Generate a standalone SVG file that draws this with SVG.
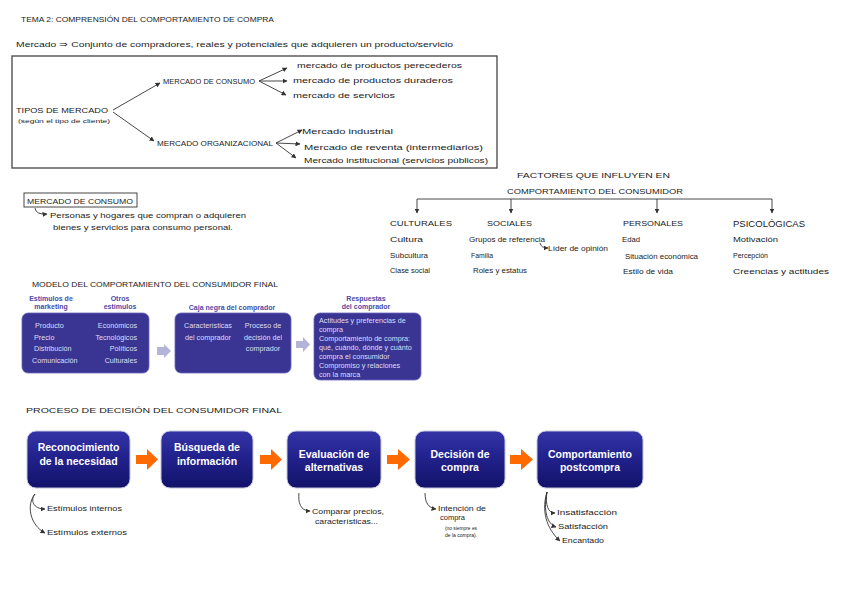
<svg xmlns="http://www.w3.org/2000/svg" width="848" height="599" viewBox="0 0 848 599">
<defs>
<style>
.h{font-family:"Liberation Sans",Arial,sans-serif;font-size:8px;fill:#222}
.s{font-family:"Liberation Sans",Arial,sans-serif;font-size:7px;fill:#222}
.xs{font-family:"Liberation Sans",Arial,sans-serif;font-size:5.5px;fill:#222}
.bh{font-family:"Liberation Sans",Arial,sans-serif;font-size:7px;font-weight:bold;fill:#4b4ba8;text-anchor:middle}
.bt{font-family:"Liberation Sans",Arial,sans-serif;font-size:7.2px;fill:#dedef4}
.pt{font-family:"Liberation Sans",Arial,sans-serif;font-size:10.5px;font-weight:bold;fill:#fff;text-anchor:middle}
.ln{fill:none;stroke:#333;stroke-width:0.9;marker-end:url(#ah)}
.pl{fill:none;stroke:#333;stroke-width:0.9}
.mb{fill:#3a3593;stroke:#6a66bb;stroke-width:0.8}
.pb{fill:url(#pg);stroke:#c4c4dc;stroke-width:1}
.ga{fill:#b4b4d8}
.oa{fill:#ff6a00}
</style>
<linearGradient id="pg" x1="0" y1="0" x2="0" y2="1">
<stop offset="0" stop-color="#3434a6"/>
<stop offset="0.45" stop-color="#22228e"/>
<stop offset="1" stop-color="#12126a"/>
</linearGradient>
<marker id="ah" markerUnits="userSpaceOnUse" markerWidth="5" markerHeight="5" refX="4.5" refY="2.5" orient="auto">
<path d="M0,0 L5,2.5 L0,5 Z" fill="#333"/>
</marker>
</defs>
<rect width="848" height="599" fill="#fff"/>

<g id="titulo">
<text class="h" x="21" y="22" textLength="253" lengthAdjust="spacingAndGlyphs">TEMA 2: COMPRENSIÓN DEL COMPORTAMIENTO DE COMPRA</text>
<text class="h" x="16" y="47" textLength="437" lengthAdjust="spacingAndGlyphs">Mercado ⇒ Conjunto de compradores, reales y potenciales que adquieren un producto/servicio</text>
</g>

<g id="tipos-mercado">
<rect x="12" y="56" width="485" height="112" fill="none" stroke="#444" stroke-width="1.3"/>
<text class="h" x="16" y="113" textLength="92" lengthAdjust="spacingAndGlyphs">TIPOS DE MERCADO</text>
<text class="xs" x="18" y="123" textLength="92" lengthAdjust="spacingAndGlyphs">(según el tipo de cliente)</text>
</g>
<g id="mercado-consumo">
<text class="h" x="163" y="84" textLength="92" lengthAdjust="spacingAndGlyphs">MERCADO DE CONSUMO</text>
</g>
<g id="perecederos"><text class="s" x="297" y="68" textLength="165" lengthAdjust="spacingAndGlyphs">mercado de productos perecederos</text></g>
<g id="duraderos"><text class="s" x="293" y="83" textLength="160" lengthAdjust="spacingAndGlyphs">mercado de productos duraderos</text></g>
<g id="servicios"><text class="s" x="293" y="98" textLength="102" lengthAdjust="spacingAndGlyphs">mercado de servicios</text></g>
<g id="mercado-organizacional">
<text class="h" x="157" y="146" textLength="116" lengthAdjust="spacingAndGlyphs">MERCADO ORGANIZACIONAL</text>
</g>
<g id="industrial"><text class="s" x="302" y="134" textLength="91" lengthAdjust="spacingAndGlyphs">Mercado industrial</text></g>
<g id="reventa"><text class="s" x="304" y="150" textLength="179" lengthAdjust="spacingAndGlyphs">Mercado de reventa (intermediarios)</text></g>
<g id="institucional"><text class="s" x="304" y="163" textLength="184" lengthAdjust="spacingAndGlyphs">Mercado institucional (servicios públicos)</text></g>

<g id="def-consumo">
<rect x="24" y="193" width="113" height="14" fill="none" stroke="#333" stroke-width="0.9"/>
<text class="h" x="27" y="204" textLength="106" lengthAdjust="spacingAndGlyphs">MERCADO DE CONSUMO</text>
<text class="s" x="50" y="218" textLength="196" lengthAdjust="spacingAndGlyphs">Personas y hogares que compran o adquieren</text>
<text class="s" x="53" y="230" textLength="180" lengthAdjust="spacingAndGlyphs">bienes y servicios para consumo personal.</text>
</g>

<g id="factores">
<text class="h" x="517" y="178" textLength="153" lengthAdjust="spacingAndGlyphs">FACTORES QUE INFLUYEN EN</text>
<text class="h" x="507" y="194" textLength="176" lengthAdjust="spacingAndGlyphs">COMPORTAMIENTO DEL CONSUMIDOR</text>
</g>
<g id="culturales">
<text class="h" x="390" y="226" textLength="62" lengthAdjust="spacingAndGlyphs">CULTURALES</text>
<text class="s" x="390" y="242" textLength="33" lengthAdjust="spacingAndGlyphs">Cultura</text>
<text class="s" x="390" y="258" textLength="38" lengthAdjust="spacingAndGlyphs">Subcultura</text>
<text class="s" x="390" y="273" textLength="40" lengthAdjust="spacingAndGlyphs">Clase social</text>
</g>
<g id="sociales">
<text class="h" x="487" y="226" textLength="45" lengthAdjust="spacingAndGlyphs">SOCIALES</text>
<text class="s" x="469" y="242" textLength="76" lengthAdjust="spacingAndGlyphs">Grupos de referencia</text>
<text class="s" x="548" y="251" textLength="60" lengthAdjust="spacingAndGlyphs">Líder de opinión</text>
<text class="s" x="471" y="258" textLength="22" lengthAdjust="spacingAndGlyphs">Familia</text>
<text class="s" x="473" y="273" textLength="54" lengthAdjust="spacingAndGlyphs">Roles y estatus</text>
</g>
<g id="personales">
<text class="h" x="623" y="226" textLength="60" lengthAdjust="spacingAndGlyphs">PERSONALES</text>
<text class="s" x="622" y="242" textLength="18" lengthAdjust="spacingAndGlyphs">Edad</text>
<text class="s" x="625" y="259" textLength="73" lengthAdjust="spacingAndGlyphs">Situación económica</text>
<text class="s" x="623" y="274" textLength="50" lengthAdjust="spacingAndGlyphs">Estilo de vida</text>
</g>
<g id="psicologicas">
<text class="h" x="733" y="227" textLength="72" lengthAdjust="spacingAndGlyphs" style="font-size:9px">PSICOLÓGICAS</text>
<text class="s" x="733" y="242" textLength="45" lengthAdjust="spacingAndGlyphs">Motivación</text>
<text class="s" x="733" y="258" textLength="35" lengthAdjust="spacingAndGlyphs">Percepción</text>
<text class="s" x="733" y="274" textLength="96" lengthAdjust="spacingAndGlyphs">Creencias y actitudes</text>
</g>

<g id="modelo-titulo">
<text class="h" x="32" y="287" textLength="246" lengthAdjust="spacingAndGlyphs">MODELO DEL COMPORTAMIENTO DEL CONSUMIDOR FINAL</text>
</g>
<g id="estimulos">
<text class="bh" x="51" y="301">Estímulos de</text>
<text class="bh" x="51" y="309">marketing</text>
<text class="bh" x="120" y="301">Otros</text>
<text class="bh" x="120" y="309">estímulos</text>
<rect class="mb" x="22" y="313" width="127" height="60" rx="6"/>
<text class="bt" x="35" y="328">Producto</text>
<text class="bt" x="34" y="339.5">Precio</text>
<text class="bt" x="34" y="351">Distribución</text>
<text class="bt" x="32" y="362.5">Comunicación</text>
<text class="bt" x="137" y="328" text-anchor="end">Económicos</text>
<text class="bt" x="137" y="339.5" text-anchor="end">Tecnológicos</text>
<text class="bt" x="137" y="351" text-anchor="end">Políticos</text>
<text class="bt" x="137" y="362.5" text-anchor="end">Culturales</text>
</g>
<g id="caja-negra">
<text class="bh" x="232" y="310">Caja negra del comprador</text>
<rect class="mb" x="175" y="313" width="116" height="60" rx="6"/>
<text class="bt" x="208" y="328" text-anchor="middle">Características</text>
<text class="bt" x="208" y="339.5" text-anchor="middle">del comprador</text>
<text class="bt" x="263" y="328" text-anchor="middle">Proceso de</text>
<text class="bt" x="263" y="339.5" text-anchor="middle">decisión del</text>
<text class="bt" x="263" y="351" text-anchor="middle">comprador</text>
</g>
<g id="respuestas">
<text class="bh" x="366" y="301">Respuestas</text>
<text class="bh" x="366" y="309">del comprador</text>
<rect class="mb" x="314" y="313" width="107" height="67" rx="6"/>
<text class="bt" x="319" y="323">Actitudes y preferencias de</text>
<text class="bt" x="319" y="332">compra</text>
<text class="bt" x="319" y="341">Comportamiento de compra:</text>
<text class="bt" x="319" y="350">qué, cuándo, dónde y cuánto</text>
<text class="bt" x="319" y="359">compra el consumidor</text>
<text class="bt" x="319" y="368">Compromiso y relaciones</text>
<text class="bt" x="319" y="377">con la marca</text>
</g>

<g id="proceso-titulo">
<text class="h" x="26" y="413" textLength="256" lengthAdjust="spacingAndGlyphs">PROCESO DE DECISIÓN DEL CONSUMIDOR FINAL</text>
</g>
<g id="reconocimiento">
<rect class="pb" x="27" y="431" width="103" height="57" rx="9"/>
<text class="pt" x="78.5" y="451">Reconocimiento</text>
<text class="pt" x="78.5" y="465">de la necesidad</text>
<text class="s" x="47" y="511" textLength="75" lengthAdjust="spacingAndGlyphs">Estímulos internos</text>
<text class="s" x="47" y="535" textLength="80" lengthAdjust="spacingAndGlyphs">Estímulos externos</text>
</g>
<g id="busqueda">
<rect class="pb" x="161" y="431" width="92" height="57" rx="9"/>
<text class="pt" x="207" y="451">Búsqueda de</text>
<text class="pt" x="207" y="465">información</text>
</g>
<g id="evaluacion">
<rect class="pb" x="287" y="431" width="94" height="57" rx="9"/>
<text class="pt" x="334" y="458">Evaluación de</text>
<text class="pt" x="334" y="471">alternativas</text>
<text class="s" x="312" y="514" textLength="72" lengthAdjust="spacingAndGlyphs">Comparar precios,</text>
<text class="s" x="315" y="524" textLength="63" lengthAdjust="spacingAndGlyphs">características...</text>
</g>
<g id="decision">
<rect class="pb" x="415" y="431" width="90" height="57" rx="9"/>
<text class="pt" x="460" y="458">Decisión de</text>
<text class="pt" x="460" y="471">compra</text>
<text class="s" x="438" y="511" textLength="48" lengthAdjust="spacingAndGlyphs">Intención de</text>
<text class="s" x="440" y="520" textLength="25" lengthAdjust="spacingAndGlyphs">compra</text>
<text class="xs" x="461" y="530" text-anchor="middle" textLength="32" lengthAdjust="spacingAndGlyphs">(no siempre es</text>
<text class="xs" x="461" y="537" text-anchor="middle" textLength="32" lengthAdjust="spacingAndGlyphs">de la compra).</text>
</g>
<g id="postcompra">
<rect class="pb" x="537" y="431" width="106" height="57" rx="9"/>
<text class="pt" x="590" y="458">Comportamiento</text>
<text class="pt" x="590" y="471">postcompra</text>
<text class="s" x="557" y="515" textLength="60" lengthAdjust="spacingAndGlyphs">Insatisfacción</text>
<text class="s" x="558" y="529" textLength="50" lengthAdjust="spacingAndGlyphs">Satisfacción</text>
<text class="s" x="562" y="543" textLength="42" lengthAdjust="spacingAndGlyphs">Encantado</text>
</g>

<g id="conectores">
<path class="ln" d="M113,110 L160,83"/>
<path class="ln" d="M113,112 L154,141"/>
<path class="ln" d="M259,81 L287,68"/>
<path class="ln" d="M259,81 L287,81"/>
<path class="ln" d="M259,81 L286,95"/>
<path class="ln" d="M276,143 L302,130"/>
<path class="ln" d="M276,143 L300,144"/>
<path class="ln" d="M276,143 L296,158"/>
<path class="ln" d="M35,208 Q36,215 47,214"/>
<path class="pl" d="M417,199 L772,199"/>
<path class="ln" d="M417,199 L417,213"/>
<path class="ln" d="M511,199 L511,213"/>
<path class="ln" d="M657,199 L657,213"/>
<path class="ln" d="M772,199 L772,213"/>
<path class="ln" d="M540,243 Q541,248 548,248"/>
<path class="ga" d="M157,347 H164 V344 L171,351 L164,358 V355 H157 Z"/>
<path class="ga" d="M296,341 H303 V337 L310,344.5 L303,352 V348 H296 Z"/>
<path class="oa" d="M136,455 H147 V449 L158,459.5 L147,470 V464 H136 Z"/>
<path class="oa" d="M260,455 H271 V449 L282,459.5 L271,470 V464 H260 Z"/>
<path class="oa" d="M387,455 H398 V449 L410,459.5 L398,470 V464 H387 Z"/>
<path class="oa" d="M510,455 H521 V449 L533,459.5 L521,470 V464 H510 Z"/>
<path class="ln" d="M35,494 C30,500 33,509 45,509"/>
<path class="ln" d="M35,494 C26,505 30,525 45,533"/>
<path class="ln" d="M299,493 C298,502 300,511 310,511"/>
<path class="ln" d="M425,493 C425,502 428,508 436,509"/>
<path class="ln" d="M547,492 C545,505 548,513 555,513"/>
<path class="ln" d="M547,492 C543,510 547,524 556,527"/>
<path class="ln" d="M547,492 C540,515 550,532 560,541"/>
</g>
</svg>
